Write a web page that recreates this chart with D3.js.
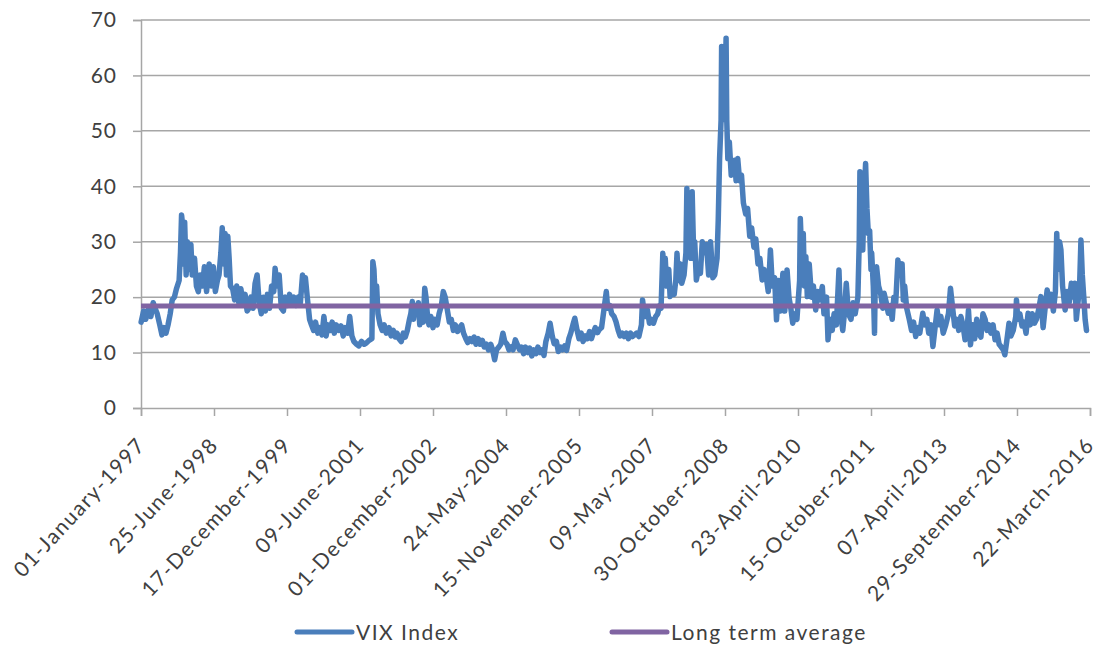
<!DOCTYPE html>
<html>
<head>
<meta charset="utf-8">
<script src="https://cdn.jsdelivr.net/npm/d3@7"></script>
<style>
  html, body { margin: 0; padding: 0; background: #ffffff; }
  svg { display: block; }
  text { font-family: Lato, "Open Sans", sans-serif; fill: #404040; }
</style>
</head>
<body>
<svg id="chart" width="1097" height="646"></svg>
<script>
// ---------- data ----------
const seriesNames = ["VIX Index", "Long term average"];
const longTermAverage = 18.4;
const yTicks = [0, 10, 20, 30, 40, 50, 60, 70];
const xTickDates = ["1997-01-01","1998-06-25","1999-12-17","2001-06-09","2002-12-01","2004-05-24",
  "2005-11-15","2007-05-09","2008-10-30","2010-04-23","2011-10-15","2013-04-07","2014-09-29","2016-03-22"];

const vixDates = [
"1997-01-02","1997-01-20","1997-02-05","1997-02-25","1997-03-15","1997-04-01","1997-04-15","1997-05-01","1997-05-20","1997-06-05",
"1997-06-20","1997-07-05","1997-07-20","1997-08-05","1997-08-20","1997-09-05","1997-09-20","1997-10-10","1997-10-20","1997-10-28",
"1997-11-05","1997-11-12","1997-11-20","1997-12-01","1997-12-10","1997-12-20","1998-01-05","1998-01-15","1998-02-01","1998-02-15",
"1998-03-01","1998-03-15","1998-04-01","1998-04-15","1998-05-01","1998-05-20","1998-06-05","1998-06-20","1998-07-05","1998-07-20",
"1998-08-01","1998-08-15","1998-08-25","1998-09-05","1998-09-15","1998-09-25","1998-10-05","1998-10-15","1998-10-25","1998-11-10",
"1998-11-25","1998-12-10","1998-12-25","1999-01-10","1999-01-25","1999-02-10","1999-02-25","1999-03-10","1999-03-25","1999-04-10",
"1999-04-25","1999-05-10","1999-05-25","1999-06-10","1999-06-25","1999-07-10","1999-07-25","1999-08-10","1999-08-25","1999-09-10",
"1999-09-20","1999-10-05","1999-10-20","1999-11-05","1999-11-20","1999-12-05","1999-12-20","2000-01-05","2000-01-20","2000-02-05",
"2000-02-20","2000-03-10","2000-03-25","2000-04-10","2000-04-20","2000-05-01","2000-05-15","2000-06-01","2000-06-15","2000-07-01",
"2000-07-15","2000-08-01","2000-08-15","2000-09-01","2000-09-15","2000-10-01","2000-10-15","2000-11-01","2000-11-15","2000-12-01",
"2000-12-15","2001-01-05","2001-01-20","2001-02-05","2001-02-20","2001-03-10","2001-03-25","2001-04-10","2001-04-25","2001-05-15",
"2001-06-01","2001-06-20","2001-07-10","2001-07-25","2001-08-15","2001-09-05","2001-09-12","2001-09-20","2001-10-01","2001-10-10",
"2001-10-20","2001-11-05","2001-11-20","2001-12-05","2001-12-20","2002-01-10","2002-01-25","2002-02-10","2002-02-25","2002-03-10",
"2002-03-25","2002-04-10","2002-04-25","2002-05-10","2002-05-25","2002-06-10","2002-06-20","2002-07-01","2002-07-10","2002-07-20",
"2002-08-01","2002-08-15","2002-08-25","2002-09-05","2002-09-20","2002-10-01","2002-10-10","2002-10-20","2002-11-01","2002-11-15",
"2002-12-01","2002-12-15","2003-01-01","2003-01-15","2003-02-01","2003-02-15","2003-03-01","2003-03-15","2003-04-01","2003-04-15",
"2003-05-01","2003-05-15","2003-06-01","2003-06-15","2003-07-01","2003-07-15","2003-08-01","2003-08-15","2003-09-01","2003-09-15",
"2003-10-01","2003-10-15","2003-11-01","2003-11-15","2003-12-01","2003-12-15","2004-01-01","2004-01-15","2004-02-01","2004-02-15",
"2004-03-01","2004-03-15","2004-04-01","2004-04-15","2004-05-01","2004-05-15","2004-06-01","2004-06-15","2004-07-01","2004-07-15",
"2004-08-01","2004-08-15","2004-09-01","2004-09-15","2004-10-01","2004-10-15","2004-11-01","2004-11-15","2004-12-01","2004-12-15",
"2005-01-01","2005-01-15","2005-02-01","2005-02-15","2005-03-01","2005-03-15","2005-04-01","2005-04-15","2005-05-01","2005-05-15",
"2005-06-01","2005-06-15","2005-07-01","2005-07-15","2005-08-01","2005-08-15","2005-09-01","2005-09-15","2005-10-01","2005-10-15",
"2005-11-01","2005-11-15","2005-12-01","2005-12-15","2006-01-01","2006-01-15","2006-02-01","2006-02-15","2006-03-01","2006-03-15",
"2006-04-01","2006-04-15","2006-05-01","2006-05-20","2006-06-05","2006-06-15","2006-07-01","2006-07-15","2006-08-01","2006-08-15",
"2006-09-01","2006-09-15","2006-10-01","2006-10-15","2006-11-01","2006-11-15","2006-12-01","2006-12-15","2007-01-01","2007-01-15",
"2007-02-01","2007-02-20","2007-02-28","2007-03-10","2007-03-20","2007-04-05","2007-04-20","2007-05-05","2007-05-20","2007-06-05",
"2007-06-20","2007-07-05","2007-07-15","2007-07-28","2007-08-05","2007-08-15","2007-08-25","2007-09-10","2007-09-20","2007-10-05",
"2007-10-20","2007-11-01","2007-11-10","2007-11-20","2007-12-05","2007-12-15","2008-01-01","2008-01-15","2008-01-22","2008-02-01",
"2008-02-10","2008-02-20","2008-03-01","2008-03-10","2008-03-20","2008-04-01","2008-04-15","2008-05-01","2008-05-15","2008-06-01",
"2008-06-15","2008-07-01","2008-07-15","2008-08-01","2008-08-15","2008-09-01","2008-09-10","2008-09-20","2008-10-01","2008-10-05",
"2008-10-12","2008-10-20","2008-10-28","2008-11-07","2008-11-12","2008-11-20","2008-12-01","2008-12-15","2009-01-10","2009-01-20",
"2009-02-01","2009-02-15","2009-03-01","2009-03-15","2009-04-01","2009-04-15","2009-05-01","2009-05-15","2009-06-01","2009-06-15",
"2009-07-01","2009-07-15","2009-08-01","2009-08-15","2009-09-01","2009-09-15","2009-10-01","2009-10-15","2009-11-01","2009-11-15",
"2009-12-01","2009-12-15","2010-01-01","2010-01-15","2010-02-01","2010-02-15","2010-03-01","2010-03-15","2010-04-01","2010-04-15",
"2010-05-05","2010-05-10","2010-05-20","2010-06-01","2010-06-10","2010-06-20","2010-07-01","2010-07-15","2010-08-01","2010-08-15",
"2010-09-01","2010-09-15","2010-10-01","2010-10-20","2010-11-01","2010-11-20","2010-12-01","2010-12-15","2011-01-01","2011-01-15",
"2011-02-01","2011-02-20","2011-03-01","2011-03-20","2011-04-01","2011-04-15","2011-05-01","2011-05-20","2011-06-05","2011-06-20",
"2011-07-10","2011-07-20","2011-07-25","2011-08-05","2011-08-15","2011-08-25","2011-09-05","2011-09-15","2011-09-25","2011-10-05",
"2011-10-15","2011-10-20","2011-11-01","2011-11-10","2011-11-15","2011-11-25","2011-12-10","2011-12-25","2012-01-10","2012-01-20",
"2012-02-05","2012-02-20","2012-03-05","2012-03-20","2012-04-01","2012-04-15","2012-05-01","2012-05-15","2012-06-01","2012-06-10",
"2012-06-20","2012-07-05","2012-07-25","2012-08-10","2012-08-25","2012-09-10","2012-09-25","2012-10-10","2012-11-01","2012-11-15",
"2012-12-01","2012-12-15","2013-01-01","2013-01-15","2013-02-01","2013-02-15","2013-03-01","2013-03-15","2013-04-01","2013-04-20",
"2013-05-10","2013-05-25","2013-06-10","2013-06-25","2013-07-10","2013-07-25","2013-08-10","2013-08-25","2013-09-10","2013-09-25",
"2013-10-05","2013-10-20","2013-11-05","2013-11-20","2013-12-05","2013-12-20","2014-01-05","2014-01-20","2014-02-05","2014-02-20",
"2014-03-05","2014-03-20","2014-04-05","2014-04-20","2014-05-05","2014-05-20","2014-06-05","2014-06-20","2014-07-01","2014-07-15",
"2014-08-01","2014-08-15","2014-09-01","2014-09-20","2014-09-25","2014-10-05","2014-10-20","2014-11-05","2014-11-20","2014-12-05",
"2014-12-20","2015-01-05","2015-01-20","2015-02-05","2015-02-20","2015-03-10","2015-03-25","2015-04-10","2015-04-25","2015-05-10",
"2015-05-25","2015-06-10","2015-06-25","2015-07-10","2015-07-20","2015-07-28","2015-08-10","2015-08-20","2015-09-01","2015-09-20",
"2015-10-05","2015-10-20","2015-11-05","2015-11-20","2015-12-01","2015-12-12","2016-01-05","2016-01-15","2016-01-25","2016-02-05",
"2016-02-15","2016-02-25"
];

const vixValues = [
15.5,17.5,16,17.8,16.5,19,18,17,15,13.2,
14.5,13.5,15,17,19.5,20,21.5,23,28,34.8,
33,26,33.5,24,30,25,29.5,24,27,22,
21,24,22,25.5,21,26,22,25.5,21,23,
24,28,32.5,26,31.5,24,31,27,22,21.5,
19.5,22,19,21.5,19,20.5,17.5,18,20,18,
22.5,24,19,17,20,17.5,20.5,18,22,21,
25.2,22,24,18,17.5,20,18.5,20.5,19,20,
18.5,20,19,24,22,23.5,20,16,15,14,
15.5,13.5,14.5,13.2,16.5,13,15,14,15.5,13.5,
15,14,14.8,13,14.5,13.5,16.5,13,12,11.5,
11.2,12,11.5,11.7,12.2,12.5,26.4,25,19,22,
17,15,14,15,13.5,14.5,13,14,12.8,13.5,
12.5,12,13.5,12.8,14,16,17,19.2,16,18.5,
17,19,15,17,15.5,21.6,20,17,15,16.5,
14.5,16,15,17,18.5,21,20,18,15.5,16,
14,15,13.8,14.5,15,13.5,12.5,11.8,12.5,12,
12.8,11.5,12.5,11.5,12.2,11,11.5,10.5,11.5,10.5,
8.7,10.5,11,11.5,13.5,12,11.5,10.5,11,10.5,
12.3,11.5,10.5,11,9.8,11,10,10.8,9.4,10.5,
9.8,11,10,10.5,9.5,12,13.5,15.3,13,11.6,
12,10.2,11,10.5,11.2,10.4,12.5,13.5,15,16.2,
14,12.5,13.5,12,13,12.5,13.8,12.5,13.6,14.5,
13.6,14.2,14.5,18,21,18,18.5,17,16.5,15.6,
14,13,13.5,12.9,13.5,12.5,13.5,12.9,13.2,13.5,
12.9,15,19.5,17.5,16.5,17.7,15.3,16,15.3,16.5,
17,18.5,18,27.9,24,27,22,25,20.1,21,
20.5,23,27.9,23,26,22.5,24,28,39.6,30,
32,27,39,30,30,23.1,25,24.3,30,28,
29.5,24,30,23.5,24,27,33.9,45,52,65.2,
52,53,54,66.7,52,45,48,42,44.7,41,
45,41,42,37,35,36,31,32.5,29,30.5,
26,27,23.1,25,23.5,21,28.5,22,23.5,15.9,
23,17.5,24.3,17.5,24.9,20,18,15.3,17,16,
23,34.2,28,31.5,22,27.3,20.1,26,20,22,
17.7,21,19.5,21.9,17,20,12.3,16,14,17,
15,24.9,18,14,17,22.5,17,16,19,17,
20,30,42.6,36,28.5,38,44.1,36,31.5,32,
25,28,22,13.5,22,25.5,22,20.7,18,20.7,
19,17.1,18.5,16,20,19,26.7,24,26,19.5,
22,18,15.9,14,15.5,12.9,14.5,13.5,17.1,15,
16,13.5,15,11.1,14.7,17.7,15,16.5,13.5,15,
17,21.6,18,14.8,16,14,16.5,15,12.3,14,
17.7,11.4,15,12.5,16,13.5,12.8,17,16,14,
15,13.5,15,12.3,13.5,11.5,11,10.5,9.6,12,
15.3,13,14,16.5,19.5,16,17,14.8,15.5,13.5,
17.1,15,17,15.3,16,18,20.1,14.5,18,21.3,
19,20.5,17.5,21,31.5,25,30,28.5,22,17.7,
21,19,22.5,20,22.5,16,22,30.3,24,20,
16,14
];

// ---------- layout ----------
const plot = { left: 141, right: 1090, top: 20, bottom: 408 };
const svg = d3.select("#chart");
const fontFamily = "Lato, 'Open Sans', sans-serif";
const textColor = "#404040";

const parse = d3.utcParse("%Y-%m-%d");
const vix = vixDates.map((d, i) => ({ date: parse(d), value: vixValues[i] }));
const ticks = xTickDates.map(parse);

const x = d3.scaleUtc()
  .domain([ticks[0], ticks[ticks.length - 1]])
  .range([plot.left, plot.right]);
const y = d3.scaleLinear().domain([0, 70]).range([plot.bottom, plot.top]);

const gridColor = "#a6a6a6";

// gridlines
svg.append("g")
  .selectAll("line")
  .data(yTicks.filter(t => t > 0))
  .join("line")
  .attr("x1", plot.left).attr("x2", plot.right)
  .attr("y1", d => y(d)).attr("y2", d => y(d))
  .attr("stroke", gridColor).attr("stroke-width", 1.5);

// y axis
const yAxis = svg.append("g")
  .attr("transform", `translate(${plot.left},0)`)
  .call(d3.axisLeft(y).tickValues(yTicks).tickSize(8).tickPadding(16).tickFormat(d3.format("d")));
yAxis.select(".domain").attr("stroke", gridColor).attr("stroke-width", 1.5);
yAxis.selectAll(".tick line").attr("stroke", gridColor).attr("stroke-width", 1.5);
yAxis.selectAll(".tick text")
  .style("font-family", fontFamily)
  .style("font-size", "21px")
  .style("letter-spacing", "1px")
  .attr("fill", textColor);

// x axis
const xAxis = svg.append("g")
  .attr("transform", `translate(0,${plot.bottom})`)
  .call(d3.axisBottom(x).tickValues(ticks).tickSize(8).tickFormat(d3.utcFormat("%d-%B-%Y")));
xAxis.select(".domain").attr("stroke", gridColor).attr("stroke-width", 1.5);
xAxis.selectAll(".tick line").attr("stroke", gridColor).attr("stroke-width", 1.5);
xAxis.selectAll(".tick text")
  .style("font-family", fontFamily)
  .style("font-size", "21px")
  .style("letter-spacing", "1.5px")
  .attr("fill", textColor)
  .attr("text-anchor", "end")
  .attr("dy", "0")
  .attr("y", 0)
  .attr("transform", "translate(5,38) rotate(-47)");

// series
const line = d3.line().x(d => x(d.date)).y(d => y(d.value));
svg.append("path")
  .datum(vix)
  .attr("fill", "none")
  .attr("stroke", "#4a7ebb")
  .attr("stroke-width", 5.5)
  .attr("stroke-linejoin", "round")
  .attr("stroke-linecap", "round")
  .attr("d", line);

const avgData = [
  { date: ticks[0], value: longTermAverage },
  { date: ticks[ticks.length - 1], value: longTermAverage }
];
svg.append("path")
  .datum(avgData)
  .attr("fill", "none")
  .attr("stroke", "#8064a2")
  .attr("stroke-width", 5)
  .attr("d", line);

// legend
const legendItems = [
  { name: seriesNames[0], color: "#4a7ebb", x: 297 },
  { name: seriesNames[1], color: "#8064a2", x: 612 }
];
const li = svg.append("g").selectAll("g").data(legendItems).join("g")
  .attr("transform", d => `translate(${d.x},632)`);
li.append("line").attr("x1", 0).attr("x2", 55).attr("y1", 0).attr("y2", 0)
  .attr("stroke", d => d.color).attr("stroke-width", 5).attr("stroke-linecap", "round");
li.append("text").attr("x", 59).attr("y", 0).attr("dy", "0.36em")
  .style("font-family", fontFamily)
  .style("font-size", "21px")
  .style("letter-spacing", "1.5px")
  .attr("fill", textColor)
  .text(d => d.name);
</script>
</body>
</html>
